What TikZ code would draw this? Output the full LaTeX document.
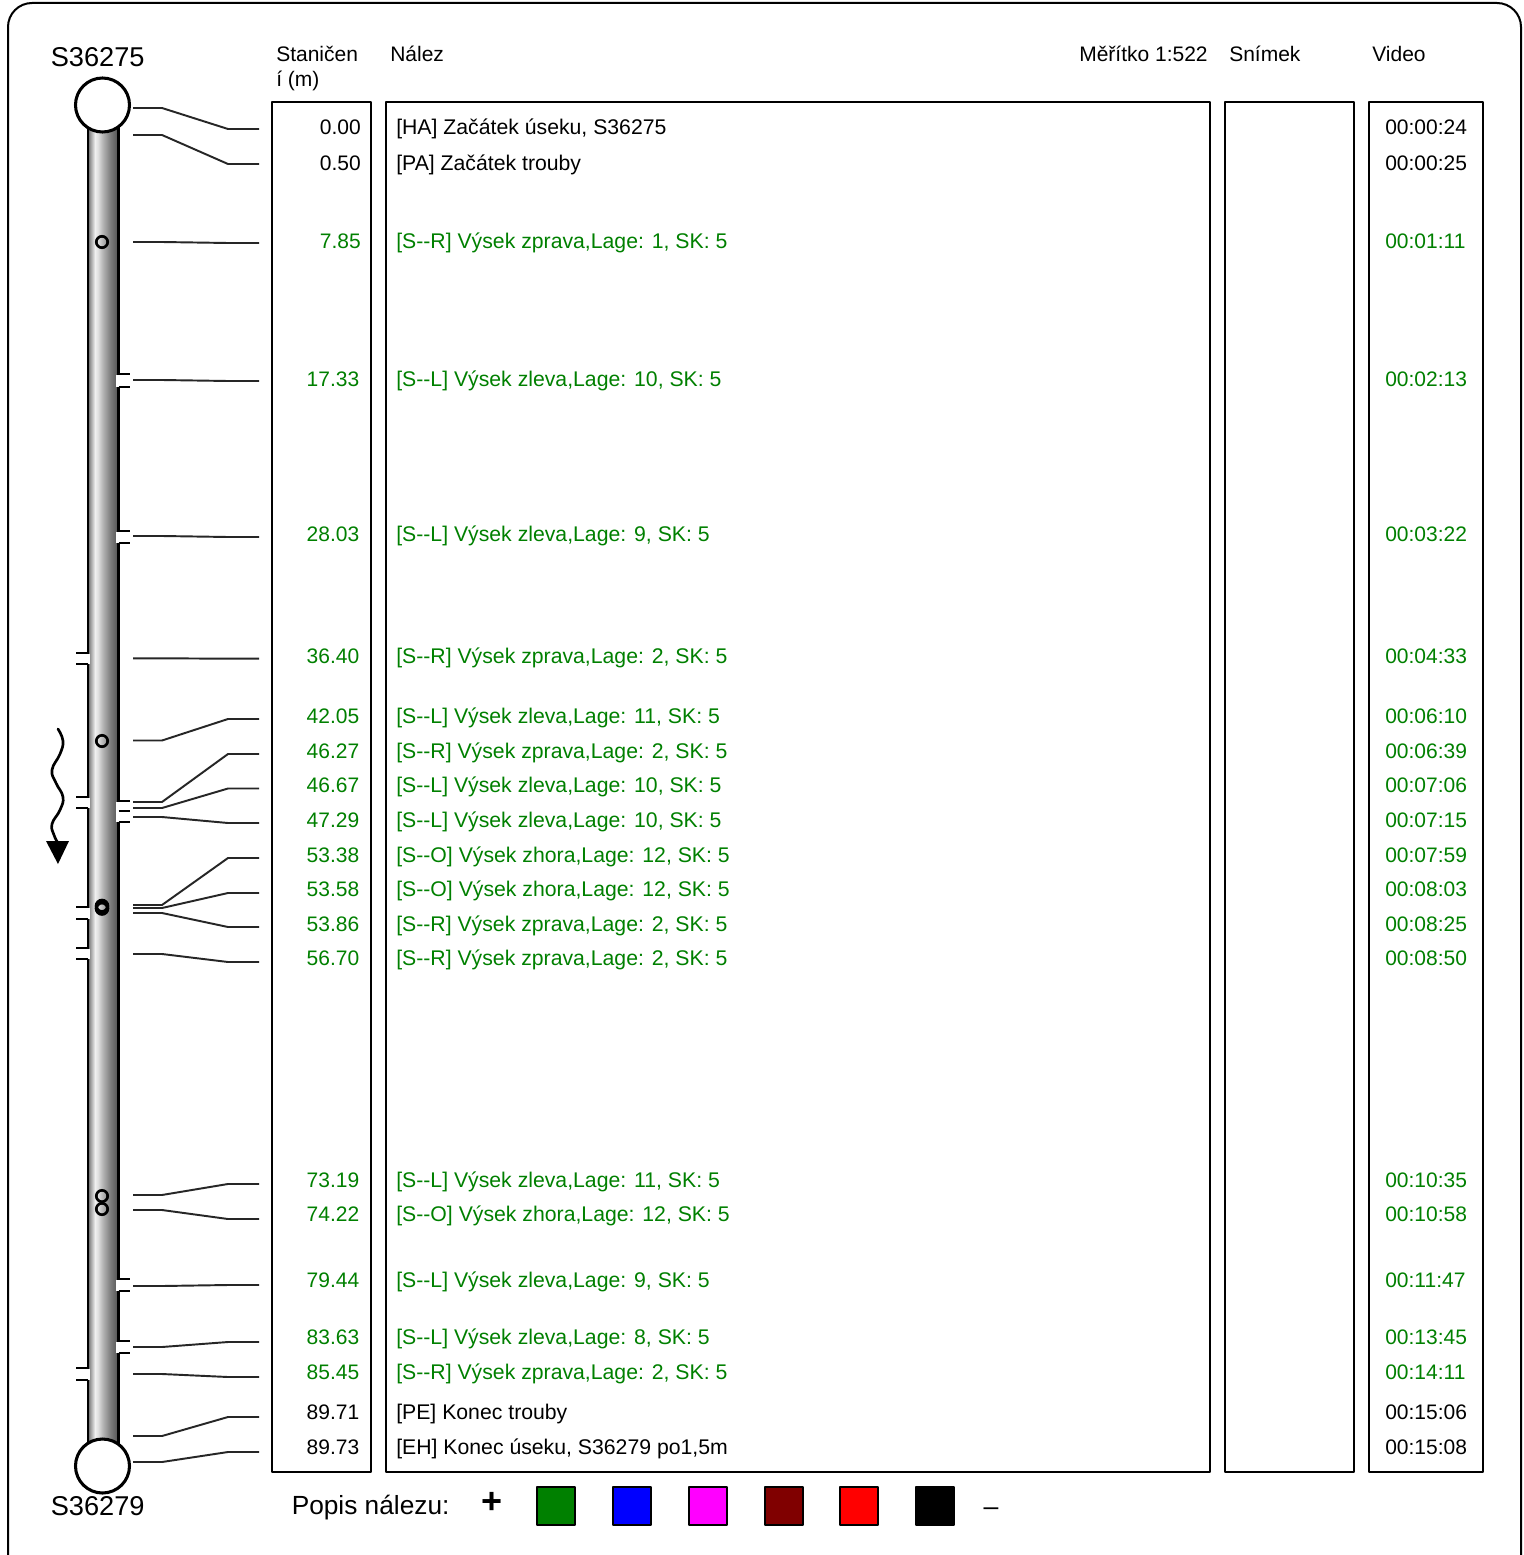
\documentclass[tikz,border=0pt]{standalone}
\usepackage{fontspec}
\setmainfont{Liberation Sans}
\definecolor{fgreen}{HTML}{008000}
\definecolor{fblue}{HTML}{0000FF}
\definecolor{fmagenta}{HTML}{FF00FF}
\definecolor{fmaroon}{HTML}{800000}
\definecolor{fred}{HTML}{FF0000}
\pgfdeclarehorizontalshading{pipeshade}{100bp}{
  color(0bp)=(black!75);
  color(25bp)=(black!75);
  color(29bp)=(black!45);
  color(37.5bp)=(black!6);
  color(42bp)=(black!12);
  color(50bp)=(black!30);
  color(61bp)=(black!50);
  color(72bp)=(black!65);
  color(75bp)=(black!68);
  color(100bp)=(black!68)}
\tikzset{
  x=0.75pt,y=-0.75pt,
  frame/.style={draw=black,line width=1.5pt,line join=round},
  colbox/.style={draw=black,line width=1.7pt,line join=round},
  wall/.style={draw=black,line width=2.2pt},
  stub/.style={draw=black,line width=1.9pt},
  leader/.style={draw=black!85,line width=1.45pt},
  joint/.style={draw=black,line width=2pt},
  manhole/.style={draw=black,line width=2.3pt,fill=white},
  body/.style={inner sep=0pt,font=\fontsize{15.75}{18}\selectfont},
  find/.style={inner sep=0pt,font=\fontsize{15.92}{18}\selectfont},
  bigt/.style={inner sep=0pt,font=\fontsize{20.4}{24}\selectfont},
  swatch/.style={draw=black,line width=1.5pt,line join=round},
}
\begin{document}
\begin{tikzpicture}
\useasboundingbox (0,0) rectangle (1523,1555);
\clip (0,0) rectangle (1523,1555);
\fill[white] (0,0) rectangle (1523,1555);
\draw[frame,rounded corners=18pt] (8,3) rectangle (1521,1580);
% column boxes
\draw[colbox] (272,102) rectangle (371,1472);
\draw[colbox] (386,102) rectangle (1210,1472);
\draw[colbox] (1225,102) rectangle (1354,1472);
\draw[colbox] (1369,102) rectangle (1483,1472);
% headers
\node[bigt,anchor=base west] (ntop) at (50.5,67) {S36275};
\node[bigt,anchor=base west] (nbot) at (50.5,1515.5) {S36279};
\node[body,anchor=base west] (h1) at (276,62) {Staničen};
\node[body,anchor=base west] (h1b) at (276,87) {í (m)};
\node[body,anchor=base west] (h2) at (390,62) {Nález};
\node[body,anchor=base west] (h3) at (1079,62) {Měřítko 1:522};
\node[body,anchor=base west] (h4) at (1229,62) {Snímek};
\node[body,anchor=base west] (h5) at (1372,62) {Video};
% pipe
\shade[shading=pipeshade] (87,105) rectangle (119,1466);
\foreach \ga/\gb in {653.5/664,797.5/808,907.5/919,948.5/959,1368.5/1380}
  \fill[white] (85,\ga) rectangle (90,\gb);
\foreach \ga/\gb in {374.5/387,531.5/543,801.5/822,1279.5/1291,1341.5/1353}
  \fill[white] (116,\ga) rectangle (121,\gb);
% walls
\draw[wall] (88,120) -- (88,654);
\draw[wall] (88,663.5) -- (88,798);
\draw[wall] (88,807.5) -- (88,908);
\draw[wall] (88,918.5) -- (88,949);
\draw[wall] (88,958.5) -- (88,1369);
\draw[wall] (88,1379.5) -- (88,1450);
\draw[wall] (118.5,120) -- (118.5,375);
\draw[wall] (118.5,386.5) -- (118.5,532);
\draw[wall] (118.5,542.5) -- (118.5,802);
\draw[wall] (118.5,821.5) -- (118.5,1280);
\draw[wall] (118.5,1290.5) -- (118.5,1342);
\draw[wall] (118.5,1352.5) -- (118.5,1450);
% joint stubs
\foreach \sy in {653,664,797,808,907,919,948,959,1368,1380}
  \draw[stub] (76,\sy) -- (88,\sy);
\foreach \sy in {374,387,531,543,801,811,822,1279,1291,1341,1353}
  \draw[stub] (118.5,\sy) -- (130,\sy);
% manholes
\draw[manhole] (102.5,105) circle[radius=27];
\draw[manhole] (102.5,1466) circle[radius=27];
% small damage circles
\foreach \cy in {242,741,1196,1209}
  \draw[joint] (102,\cy) circle[radius=5.7];
\draw[joint,line width=2.4pt] (102,906) circle[radius=5.7];
\draw[joint,line width=2.4pt] (102,908.5) circle[radius=5.7];
% flow arrow
\draw[line width=2pt,line cap=round] plot[smooth,tension=0.75] coordinates
  {(58,729) (63,741) (60,754) (52,770) (56,783) (63,797) (60,810) (52,824) (54,835) (58,843)};
\fill[black] (46,841) -- (69,841) -- (58,864) -- cycle;
% rows
\foreach \n/\yt/\st/\sx/\txt/\tm/\ya/\yb/\col in {
 1/127/0.00/361/{[HA] Začátek úseku, S36275}/00:00:24/108/129/black,
 2/163/0.50/361/{[PA] Začátek trouby}/00:00:25/135/164/black,
 3/241/7.85/361/{[S-{}-R] Výsek zprava,Lage: 1, SK: 5}/00:01:11/242/243/fgreen,
 4/379/17.33/359.5/{[S-{}-L] Výsek zleva,Lage: 10, SK: 5}/00:02:13/380/381/fgreen,
 5/534/28.03/359.5/{[S-{}-L] Výsek zleva,Lage: 9, SK: 5}/00:03:22/536/537/fgreen,
 6/656/36.40/359.5/{[S-{}-R] Výsek zprava,Lage: 2, SK: 5}/00:04:33/658.3/658.7/fgreen,
 7/716/42.05/359.5/{[S-{}-L] Výsek zleva,Lage: 11, SK: 5}/00:06:10/740.5/719/fgreen,
 8/751/46.27/359.5/{[S-{}-R] Výsek zprava,Lage: 2, SK: 5}/00:06:39/802/754/fgreen,
 9/785/46.67/359.5/{[S-{}-L] Výsek zleva,Lage: 10, SK: 5}/00:07:06/808/788.5/fgreen,
 10/820/47.29/359.5/{[S-{}-L] Výsek zleva,Lage: 10, SK: 5}/00:07:15/817/823/fgreen,
 11/855/53.38/359.5/{[S-{}-O] Výsek zhora,Lage: 12, SK: 5}/00:07:59/905/858/fgreen,
 12/889/53.58/359.5/{[S-{}-O] Výsek zhora,Lage: 12, SK: 5}/00:08:03/908/893/fgreen,
 13/924/53.86/359.5/{[S-{}-R] Výsek zprava,Lage: 2, SK: 5}/00:08:25/913/927/fgreen,
 14/958/56.70/359.5/{[S-{}-R] Výsek zprava,Lage: 2, SK: 5}/00:08:50/954/962/fgreen,
 15/1180/73.19/359.5/{[S-{}-L] Výsek zleva,Lage: 11, SK: 5}/00:10:35/1195/1184/fgreen,
 16/1214/74.22/359.5/{[S-{}-O] Výsek zhora,Lage: 12, SK: 5}/00:10:58/1210/1219/fgreen,
 17/1280/79.44/359.5/{[S-{}-L] Výsek zleva,Lage: 9, SK: 5}/00:11:47/1286/1285/fgreen,
 18/1337/83.63/359.5/{[S-{}-L] Výsek zleva,Lage: 8, SK: 5}/00:13:45/1347/1342/fgreen,
 19/1372/85.45/359.5/{[S-{}-R] Výsek zprava,Lage: 2, SK: 5}/00:14:11/1374/1377/fgreen,
 20/1412/89.71/359.5/{[PE] Konec trouby}/00:15:06/1436/1417/black,
 21/1447/89.73/359.5/{[EH] Konec úseku, S36279 po1,5m}/00:15:08/1462/1452/black}
{
  \node[body,anchor=base east,text=\col] (st\n) at (\sx,\yt+7.5) {\st};
  \node[find,anchor=base west,text=\col] (tx\n) at (396,\yt+7.5) {\txt};
  \node[body,anchor=base west,text=\col] (tm\n) at (1385,\yt+7.5) {\tm};
  \coordinate (la\n) at (133,\ya);
  \coordinate (lb\n) at (259,\yb);
  \draw[leader] (la\n) -- ++(29,0) -- (228,\yb) -- (lb\n);
}
% legend
\node[inner sep=0pt,anchor=base west,font=\fontsize{19.7}{24}\selectfont] (lg) at (291.5,1514.5) {Popis nálezu:};
\node[inner sep=0pt,font=\bfseries\fontsize{27}{27}\selectfont] (plus) at (492.5,1503) {+};
\foreach \k/\x/\c in {a/537/fgreen,b/613/fblue,c/689/fmagenta,d/764.5/fmaroon,e/840/fred,f/915.5/black}
  \draw[swatch,fill=\c] (\x,1487) rectangle ++(38,38);
\node[inner sep=0pt,font=\fontsize{20}{24}\selectfont] (minus) at (991,1511.5) {–};
\end{tikzpicture}
\end{document}
